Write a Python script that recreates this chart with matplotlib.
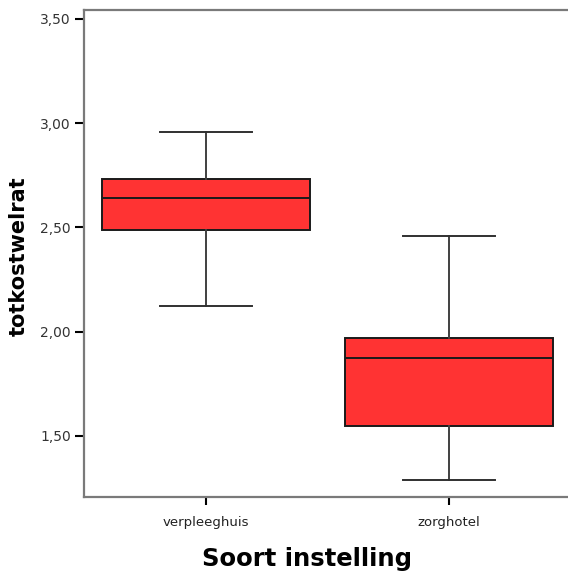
import matplotlib
matplotlib.use("Agg")
import matplotlib.pyplot as plt

# box statistics (SPSS boxplot)
categories = ["verpleeghuis", "zorghotel"]
whisker_low = [2.123, 1.288]
q1 = [2.489, 1.547]
median = [2.641, 1.874]
q3 = [2.732, 1.970]
whisker_high = [2.959, 2.457]

yticks = [1.5, 2.0, 2.5, 3.0, 3.5]
ytick_labels = ["1,50", "2,00", "2,50", "3,00", "3,50"]

stats = []
for i, name in enumerate(categories):
    stats.append({
        "label": name,
        "whislo": whisker_low[i],
        "q1": q1[i],
        "med": median[i],
        "q3": q3[i],
        "whishi": whisker_high[i],
        "fliers": [],
    })

fig = plt.figure(figsize=(5.68, 5.75), dpi=100)
ax = fig.add_axes([84 / 568, 1 - 497 / 575, (568 - 84) / 568, (497 - 10) / 575])

positions = list(range(1, len(categories) + 1))
ax.bxp(
    stats,
    positions=positions,
    widths=0.855,
    patch_artist=True,
    showfliers=False,
    boxprops=dict(facecolor="#ff3333", edgecolor="#1a1a1a", linewidth=1.4),
    medianprops=dict(color="#1a1a1a", linewidth=1.4),
    whiskerprops=dict(color="#404040", linewidth=1.4),
    capprops=dict(color="#303030", linewidth=1.4),
    capwidths=0.378,
)

ax.set_xlim(0.5, 2.489)
ax.set_ylim(1.206, 3.543)

ax.set_yticks(yticks)
ax.set_yticklabels(ytick_labels)
ax.set_xticks(positions)
ax.set_xticklabels(categories)

ax.tick_params(axis="y", length=6.5, width=1.5, color="black", pad=3,
               labelsize=10, labelcolor="#333333")
ax.tick_params(axis="x", length=6, width=1.5, color="black", pad=8,
               labelsize=9.5, labelcolor="#222222")

for side in ["left", "top", "bottom"]:
    ax.spines[side].set_color("#7a7a7a")
    ax.spines[side].set_linewidth(1.6)
ax.spines["right"].set_visible(False)

ax.set_ylabel("totkostwelrat", fontsize=15, fontweight="bold", va="center")
ax.yaxis.set_label_coords(-0.135, 0.495)
ax.set_xlabel("Soort instelling", fontsize=17.5, fontweight="bold", va="center")
ax.xaxis.set_label_coords(0.46, -0.127)

fig.savefig("out.png", dpi=100, facecolor="white")
